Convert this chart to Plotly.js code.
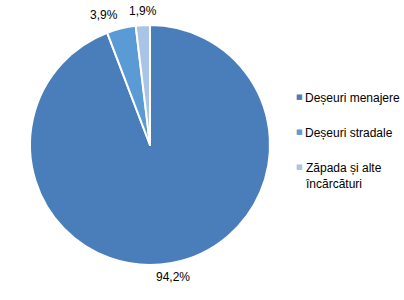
<!DOCTYPE html>
<html><head><meta charset="utf-8">
<script src="https://cdn.plot.ly/plotly-3.0.1.min.js"></script>
<style>html,body{margin:0;padding:0;background:#fff}#c{width:404px;height:300px}</style>
</head><body><div id="c"></div>
<script>
const labels = ["Deșeuri menajere", "Deșeuri stradale", "Zăpada și alte<br>încărcături"];
const values = [94.2, 3.9, 1.9];
const valueText = ["94,2%", "3,9%", "1,9%"];
const colors = ["#4a7ebb", "#5b9bd5", "#a9c4e6"];

const W = 404, H = 300;
const FONT = "Liberation Sans, Arial, sans-serif";
// pie geometry (pixels)
const cx = 150, cy = 145, R = 120, labelR = 125;

const annotations = [];
const total = values.reduce((a, b) => a + b, 0);
let cum = 0;
values.forEach((v, i) => {
  const th = (cum + v / 2) / total * 2 * Math.PI;
  cum += v;
  const s = Math.sin(th), c = Math.cos(th);
  const px = cx + labelR * s, py = cy - labelR * c;
  annotations.push({
    xref: "paper", yref: "paper", x: px / W, y: 1 - py / H,
    xanchor: s > 0.2 ? "left" : (s < -0.2 ? "right" : "center"),
    yanchor: c > 0 ? "bottom" : "top",
    text: valueText[i], showarrow: false,
    font: {family: FONT, size: 12, color: "#000"}
  });
});

// legend drawn as text
const legX = 294, legY0 = 97, legStep = 35;
labels.forEach((lab, i) => {
  const y = legY0 + i * legStep;
  annotations.push({
    xref: "paper", yref: "paper", x: legX / W, y: 1 - y / H,
    xanchor: "left", yanchor: "middle", text: "■", showarrow: false,
    font: {family: "DejaVu Sans", size: 7, color: colors[i]}
  });
  annotations.push({
    xref: "paper", yref: "paper", x: (legX + 9) / W, y: 1 - (y - 8) / H,
    xanchor: "left", yanchor: "top", align: "left", text: lab, showarrow: false,
    font: {family: FONT, size: 12, color: "#000"}
  });
});

Plotly.newPlot("c", [{
  type: "pie",
  labels: labels,
  values: values,
  textinfo: "none",
  sort: false,
  direction: "clockwise",
  rotation: 0,
  marker: {colors: colors, line: {color: "#ffffff", width: 2}},
  domain: {x: [(cx - R) / W, (cx + R) / W], y: [1 - (cy + R) / H, 1 - (cy - R) / H]},
  hoverinfo: "none"
}], {
  width: W, height: H,
  margin: {l: 0, r: 0, t: 0, b: 0},
  paper_bgcolor: "#fff",
  showlegend: false,
  annotations: annotations,
  font: {family: FONT}
}, {displayModeBar: false, staticPlot: true});
</script></body></html>
